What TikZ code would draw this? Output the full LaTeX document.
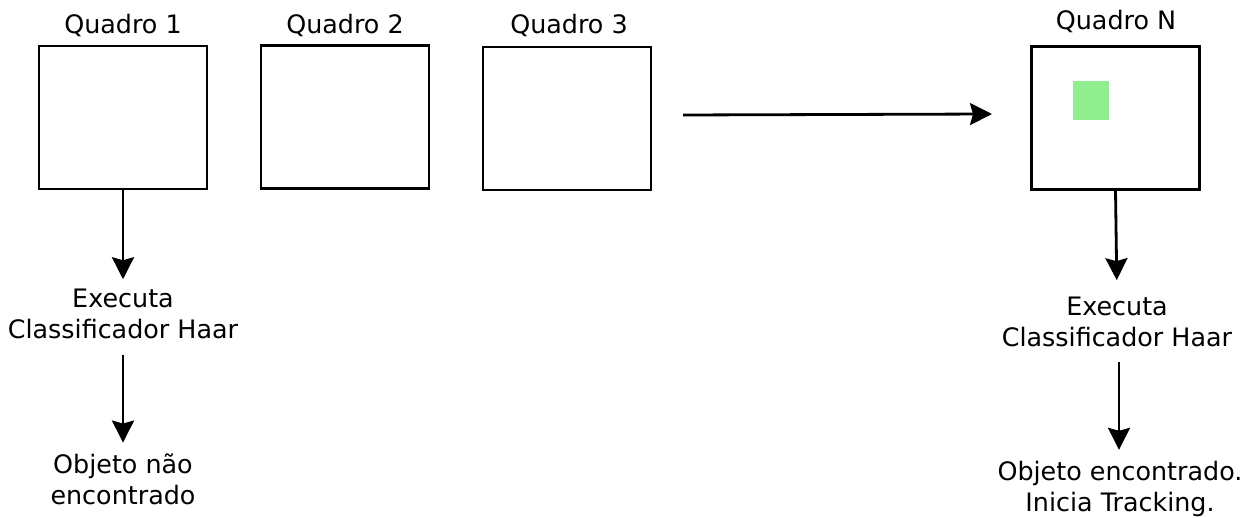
\documentclass[tikz,border=0pt]{standalone}
\usepackage{fontspec}
\setmainfont{DejaVu Sans}
\usepackage{xcolor}
\usetikzlibrary{arrows.meta}
\definecolor{achado}{HTML}{90EE90}

\begin{document}
\begin{tikzpicture}[x=0.5pt, y=-0.5pt,
    quadro/.style={draw, line width=1.4pt, minimum width=84pt, minimum height=71.5pt, inner sep=0pt},
    rotulo/.style={font=\fontsize{12.7}{16}\selectfont, inner sep=0pt, anchor=base},
    texto/.style={font=\fontsize{12.7}{15.5}\selectfont, align=center, inner sep=0pt},
    seta/.style={-{Stealth[length=11pt, width=11pt, inset=1.5pt]}, line width=1.4pt}]
    \useasboundingbox (0,0) rectangle (1258,518);

    % Quadros do video
    \node[quadro] (q1) at (123,117.5) {};
    \node[quadro] (q2) at (345,117) {};
    \node[quadro] (q3) at (567,118.5) {};
    \node[quadro] (qN) at (1115.5,118) {};
    \node[fill=achado, minimum width=18pt, minimum height=19.5pt, inner sep=0pt] (obj) at (1091,100.5) {};

    \node[rotulo] (r1) at (123,34) {Quadro 1};
    \node[rotulo] (r2) at (345,34) {Quadro 2};
    \node[rotulo] (r3) at (569,34) {Quadro 3};
    \node[rotulo] (rN) at (1116,30) {Quadro N};

    % Passagem dos quadros
    \coordinate (ini) at (683,115);
    \coordinate (fim) at (992,114);
    \draw[seta] (ini) -- (fim);

    % Quadro 1: sem objeto
    \node[texto] (ex1) at (123,314) {Executa\\Classificador Haar};
    \node[texto] (ob1) at (123,479.5) {Objeto não\\encontrado};
    \draw[seta, shorten >=4.7pt] (q1.south) -- (ex1.north);
    \draw[seta, shorten <=8pt, shorten >=5.5pt] (ex1.south) -- (ob1.north);

    % Quadro N: objeto encontrado
    \node[texto] (exN) at (1117,321.5) {Executa\\Classificador Haar};
    \node[texto] (obN) at (1120,489) {Objeto encontrado.\\Inicia Tracking.};
    \draw[seta, shorten >=8pt] (qN.south) -- (exN.north);
    \draw[seta, shorten <=7.5pt, shorten >=5.5pt] (exN.south -| 1119,0) -- (obN.north -| 1119,0);
\end{tikzpicture}
\end{document}
